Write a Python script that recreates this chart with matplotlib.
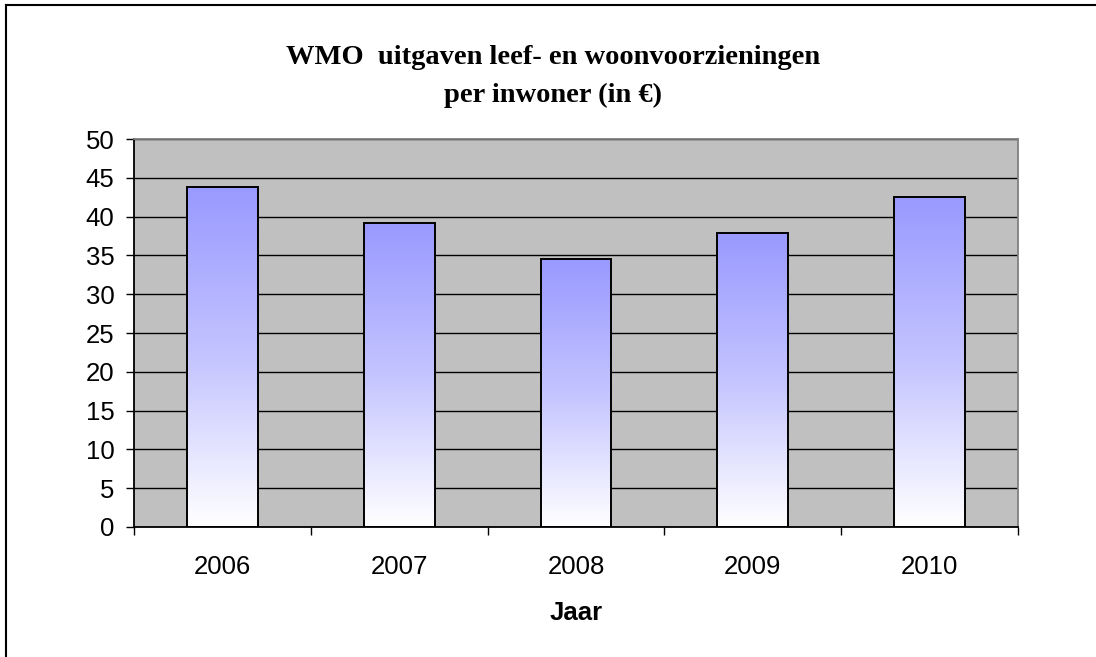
import numpy as np
import matplotlib.pyplot as plt
from matplotlib.colors import LinearSegmentedColormap
from matplotlib.lines import Line2D

jaren = ["2006", "2007", "2008", "2009", "2010"]
uitgaven = [43.8, 39.2, 34.5, 37.9, 42.5]

fig = plt.figure(figsize=(10.96, 6.57), dpi=100)
ax = fig.add_axes([0.1223, 0.1979, 0.8065, 0.5905])
ax.set_facecolor("#C0C0C0")

x = np.arange(len(jaren))
breedte = 0.4
cmap = LinearSegmentedColormap.from_list("blauw", ["#FFFFFF", "#C4C4FF", "#9999FF"])
grad = np.linspace(0, 1, 256).reshape(-1, 1)

bars = ax.bar(x, uitgaven, width=breedte, facecolor="none", edgecolor="black",
              linewidth=1.4, zorder=3)
for b in bars:
    x0, w, h = b.get_x(), b.get_width(), b.get_height()
    ax.imshow(grad, cmap=cmap, origin="lower", aspect="auto",
              extent=[x0, x0 + w, 0, h], zorder=2)

ax.set_xlim(-0.5, 4.5)
ax.set_ylim(0, 50)
ax.set_yticks(range(0, 51, 5))
ax.yaxis.grid(True, color="black", linewidth=1.0, zorder=1)
ax.set_axisbelow(True)

ax.set_xticks(x)
ax.set_xticklabels(jaren, fontsize=18.5, family="Liberation Sans")
ax.tick_params(axis="x", length=0, pad=20)
ax.set_xticks(np.arange(-0.5, 5, 1), minor=True)
ax.tick_params(axis="x", which="minor", length=6, width=1, direction="out")
ax.tick_params(axis="y", length=6, width=1, direction="out", pad=8)
for lab in ax.get_yticklabels():
    lab.set_fontsize(18.5)
    lab.set_family("Liberation Sans")

ax.spines["left"].set_color("black")
ax.spines["bottom"].set_color("black")
ax.spines["right"].set_color("#808080")
ax.spines["top"].set_color("#808080")
for s in ax.spines.values():
    s.set_linewidth(1.3)

ax.set_xlabel("Jaar", fontsize=18.5, fontweight="bold", family="Liberation Sans", labelpad=16)

fig.text(0.505, 0.913, "WMO  uitgaven leef- en woonvoorzieningen", ha="center", va="center",
         fontsize=20.5, fontweight="bold", family="Liberation Serif")
fig.text(0.505, 0.855, "per inwoner (in \u20ac)", ha="center", va="center",
         fontsize=20.5, fontweight="bold", family="Liberation Serif")

# rand om de figuur (alleen boven en links zichtbaar)
fig.add_artist(Line2D([0.0055, 0.0055], [0, 0.9924], color="black", linewidth=1.5,
                      transform=fig.transFigure))
fig.add_artist(Line2D([0.0055, 1], [0.9924, 0.9924], color="black", linewidth=1.5,
                      transform=fig.transFigure))

fig.savefig("out.png", dpi=100)
